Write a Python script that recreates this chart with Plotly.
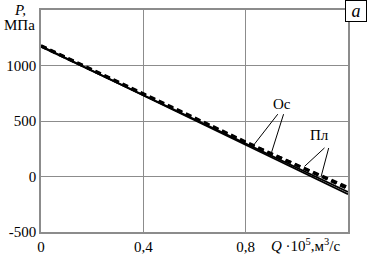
import plotly.graph_objects as go

q = [0, 0.4, 0.8, 1.2]
os_solid = [1175, 730, 290, -160]
pl_solid = [1170, 735, 300, -140]
os_dash = [1180, 745, 312, -110]
pl_dash = [1175, 742, 306, -98]

x_ticks = [0, 0.4, 0.8, 1.2]
x_ticktext = ["0", "0,4", "0,8", ""]
y_ticks = [-500, 0, 500, 1000, 1500]
y_ticktext = ["-500", "0", "500", "1000", ""]

FONT = "Liberation Serif, Times New Roman, serif"
TF = dict(family=FONT, size=15, color="black")
fig = go.Figure()
fig.add_trace(go.Scatter(x=q, y=os_solid, mode="lines", line=dict(color="black", width=1.8)))
fig.add_trace(go.Scatter(x=q, y=pl_solid, mode="lines", line=dict(color="black", width=1.8)))
fig.add_trace(go.Scatter(x=q, y=os_dash, mode="lines", line=dict(color="black", width=3, dash="6px,4px")))
fig.add_trace(go.Scatter(x=q, y=pl_dash, mode="lines", line=dict(color="black", width=3, dash="6px,4px")))

ann = []
ann.append(dict(x=0.943, y=655, xref="x", yref="y", text="Ос", showarrow=False, font=TF))
ann.append(dict(x=1.087, y=370, xref="x", yref="y", text="Пл", showarrow=False, font=TF))
for tx, ty, hx, hy in [(0.93, 575, 0.834, 291), (0.95, 575, 0.9, 209),
                       (1.114, 270, 1.03, 91), (1.126, 270, 1.095, 0)]:
    ann.append(dict(x=hx, y=hy, ax=tx, ay=ty, xref="x", yref="y", axref="x", ayref="y",
                    text="", showarrow=True, arrowhead=0, arrowwidth=1, arrowcolor="black"))
ann.append(dict(x=0, y=1.0, xref="paper", yref="paper", xanchor="left", yanchor="bottom",
                text="<i>P,</i>", showarrow=False, xshift=-29, yshift=-10, font=TF))
ann.append(dict(x=0, y=1.0, xref="paper", yref="paper", xanchor="right", yanchor="middle",
                text="МПа", showarrow=False, xshift=-4, yshift=-15, font=TF))
ann.append(dict(x=1.2, y=-500, xref="x", yref="y", xanchor="right", yanchor="top",
                text="<i>Q</i> ·10<sup>5</sup>,м<sup>3</sup>/с", showarrow=False, xshift=-5, yshift=-2,
                font=TF))
ann.append(dict(x=1.0, y=1.0, xref="paper", yref="paper", xanchor="left", yanchor="top",
                text="<i>a</i>", showarrow=False, xshift=-3, yshift=10,
                width=18, height=18, bordercolor="black", borderwidth=1, bgcolor="white", borderpad=1,
                font=dict(family=FONT, size=18, color="black")))

fig.update_layout(
    width=370, height=254,
    margin=dict(l=41, r=22, t=10, b=22),
    paper_bgcolor="white", plot_bgcolor="white",
    showlegend=False,
    annotations=ann,
    font=TF,
    xaxis=dict(range=[0, 1.2], tickvals=x_ticks, ticktext=x_ticktext, showgrid=True,
               gridcolor="#8c8c8c", gridwidth=1, zeroline=False, showline=True, automargin=False,
               linecolor="#8c8c8c", linewidth=1.5, mirror=True, ticks="", ticklen=0, tickfont=TF),
    yaxis=dict(range=[-500, 1500], tickvals=y_ticks, ticktext=y_ticktext, showgrid=True,
               gridcolor="#8c8c8c", gridwidth=1, zeroline=False, showline=True, automargin=False,
               linecolor="#8c8c8c", linewidth=1.5, mirror=True, ticks="", ticklen=0, tickfont=TF),
)
fig.write_html("out.html", config={"displayModeBar": False},
               post_script="document.body.style.margin='0';document.body.style.padding='0';")
